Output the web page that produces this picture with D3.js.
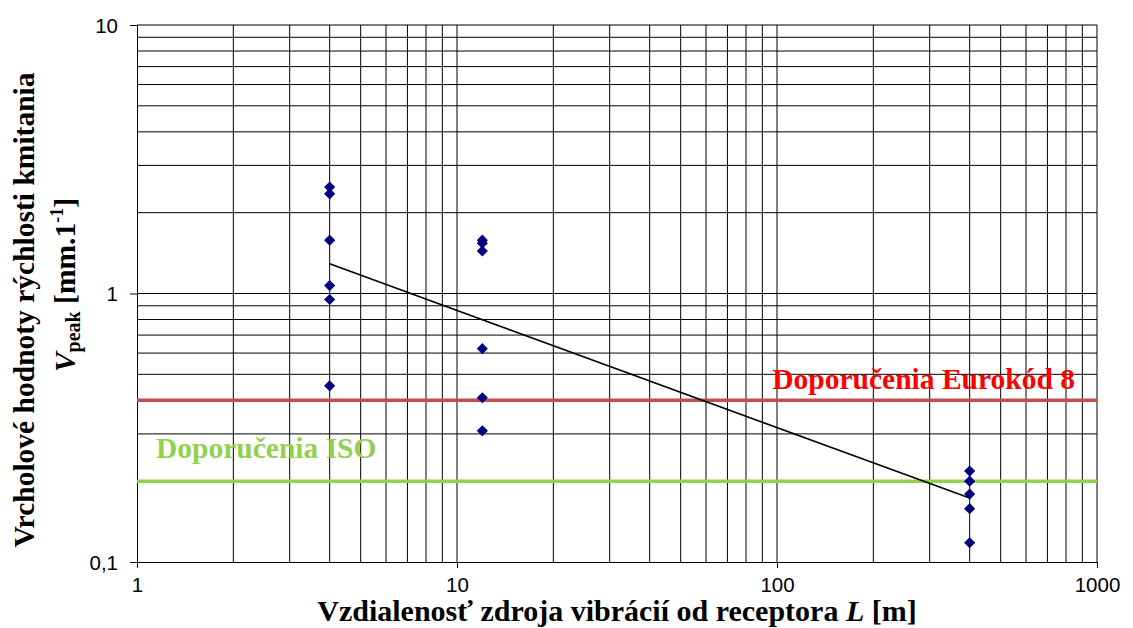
<!DOCTYPE html>
<html><head><meta charset="utf-8">
<script src="https://cdn.jsdelivr.net/npm/d3@7"></script>
<style>
html,body{margin:0;padding:0;background:#fff;}
svg{display:block;}
.serif{font-family:"Liberation Serif","Times New Roman",Times,serif;font-weight:bold;}
.sans{font-family:"Liberation Sans",Arial,Helvetica,sans-serif;}
</style></head>
<body>
<script>
// ---- data ----
const distances = [4,4,4,4,4,4,12,12,12,12,12,12,400,400,400,400,400];
const vPeak = [2.49,2.35,1.58,1.07,0.95,0.453,1.58,1.54,1.44,0.623,0.409,0.308,0.218,0.200,0.179,0.158,0.118];
const trendX = [4,400];
const trendY = [1.29,0.173];
const limitNames = ["Doporučenia Eurokód 8","Doporučenia ISO"];
const limitValues = [0.4,0.2];
const xTickValues = [1,10,100,1000];
const xTickLabels = ["1","10","100","1000"];
const yTickValues = [0.1,1,10];
const yTickLabels = ["0,1","1","10"];

const W = 1133, H = 628;
const L = 137, R = 1097, T = 25, B = 562;

const svg = d3.select("body").append("svg").attr("width",W).attr("height",H);
const x = d3.scaleLog().domain([1,1000]).range([L,R]);
const y = d3.scaleLog().domain([0.1,10]).range([B,T]);

// minor + major grid values
const gridX = [], gridY = [];
[1,10,100].forEach(d => { for (let k=1;k<=9;k++) gridX.push(d*k); });
gridX.push(1000);
[0.1,1].forEach(d => { for (let k=1;k<=9;k++) gridY.push(d*k); });
gridY.push(10);

const g = svg.append("g");
g.selectAll(".gx").data(gridX.filter(v=>v>1)).enter().append("line")
  .attr("x1",d=>x(d)).attr("x2",d=>x(d)).attr("y1",T).attr("y2",B)
  .attr("stroke","#000").attr("stroke-width",1);
g.selectAll(".gy").data(gridY.filter(v=>v>0.1)).enter().append("line")
  .attr("y1",d=>y(d)).attr("y2",d=>y(d)).attr("x1",L).attr("x2",R)
  .attr("stroke","#000").attr("stroke-width",1);

// axes
const xAxis = d3.axisBottom(x).tickValues(xTickValues)
  .tickFormat((d,i)=>xTickLabels[i]).tickSize(6).tickSizeOuter(0);
const yAxis = d3.axisLeft(y).tickValues(yTickValues)
  .tickFormat((d,i)=>yTickLabels[i]).tickSize(7).tickSizeOuter(0);

const gx = svg.append("g").attr("transform",`translate(0,${B})`).call(xAxis);
const gy = svg.append("g").attr("transform",`translate(${L},0)`).call(yAxis);
[gx,gy].forEach(a=>{
  a.attr("font-family",null).attr("font-size",null);
  a.select(".domain").attr("stroke","#000").attr("stroke-width",1);
  a.selectAll(".tick line").attr("stroke","#000");
  a.selectAll("text").attr("class","sans").style("font-size","20.5px").attr("fill","#000");
});
gx.selectAll(".tick text").attr("dy",null).attr("y",30);
gy.selectAll(".tick text").attr("dy",null).attr("x",-19).attr("y",7);

// limit lines
const limitColors = ["#C0504D","#92D050"];
svg.selectAll(".lim").data(limitValues).enter().append("line")
  .attr("x1",L).attr("x2",R).attr("y1",d=>y(d)).attr("y2",d=>y(d))
  .attr("stroke",(d,i)=>limitColors[i]).attr("stroke-width",3.5);

// trend line
svg.append("path").datum(trendX.map((d,i)=>[d,trendY[i]]))
  .attr("d",d3.line().x(d=>x(d[0])).y(d=>y(d[1])))
  .attr("fill","none").attr("stroke","#000").attr("stroke-width",1.6);

// points
const sym = d3.symbol().type(d3.symbolSquare).size(62);
svg.selectAll(".pt").data(distances.map((d,i)=>[d,vPeak[i]])).enter().append("path")
  .attr("d",sym)
  .attr("transform",d=>`translate(${x(d[0])},${y(d[1])}) rotate(45)`)
  .attr("fill","#000080");

// limit labels
svg.append("text").attr("class","serif").attr("x",1075).attr("y",y(limitValues[0])-11)
  .attr("text-anchor","end").style("font-size","29.5px")
  .attr("fill","#FF0000").text(limitNames[0]);
svg.append("text").attr("class","serif").attr("x",156).attr("y",y(limitValues[1])-23)
  .style("font-size","29.5px").attr("fill","#92D050").text(limitNames[1]);

// axis titles
const xt = svg.append("text").attr("class","serif").attr("x",617).attr("y",621).attr("text-anchor","middle")
  .style("font-size","30px").attr("fill","#000");
xt.append("tspan").text("Vzdialenosť zdroja vibrácií od receptora ");
xt.append("tspan").attr("font-style","italic").text("L");
xt.append("tspan").text(" [m]");

svg.append("text").attr("class","serif").attr("transform","translate(34,310) rotate(-90)")
  .attr("text-anchor","middle").style("font-size","29.5px").attr("fill","#000")
  .text("Vrcholové hodnoty rýchlosti kmitania");
const yt2 = svg.append("text").attr("class","serif").attr("transform","translate(75,285) rotate(-90)")
  .attr("text-anchor","middle").style("font-size","29.5px").attr("fill","#000");
yt2.append("tspan").attr("font-style","italic").text("V");
yt2.append("tspan").style("font-size","20px").attr("dy",5).text("peak");
yt2.append("tspan").attr("dy",-5).text(" [mm.1");
yt2.append("tspan").style("font-size","18px").attr("dy",-12).text("-1");
yt2.append("tspan").attr("dy",12).text("]");
</script>
</body></html>
